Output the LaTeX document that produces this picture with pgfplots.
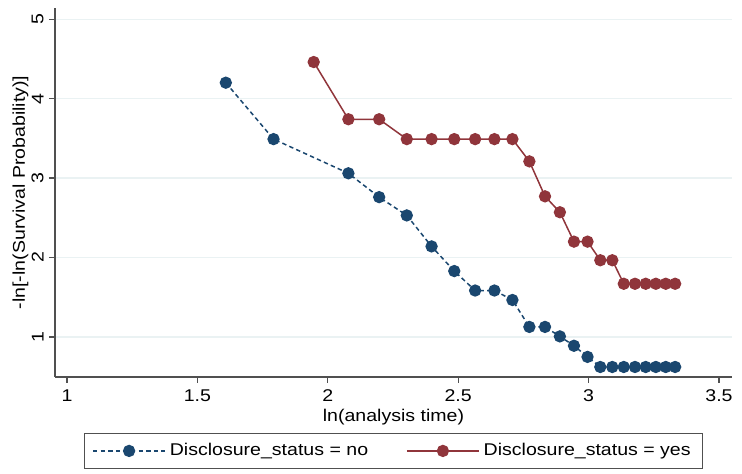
\documentclass[border=0pt]{standalone}
\usepackage{fontspec}
\setmainfont{Liberation Sans}[FakeStretch=1.15]
\usepackage{pgfplots}
\pgfplotsset{compat=1.18}
\definecolor{snavy}{RGB}{26,71,111}
\definecolor{smaroon}{RGB}{144,53,59}
\definecolor{sgrid}{RGB}{234,242,243}
\definecolor{saxis}{RGB}{80,80,80}
\begin{document}
\fontsize{8.5}{10}\selectfont
\begin{tikzpicture}
\useasboundingbox (-27.5pt,-48.5pt) rectangle (343.5pt,188.5pt);
\begin{axis}[
    scale only axis,
    width=338.5pt, height=184.5pt,
    xmin=0.954, xmax=3.55,
    ymin=0.497, ymax=5.14,
    xtick={1,1.5,2,2.5,3,3.5},
    ytick={1,2,3,4,5},
    /pgf/number format/assume math mode=true,
    axis x line*=bottom, axis y line*=left,
    x axis line style={-, saxis, line width=0.7pt},
    y axis line style={-, saxis, line width=0.7pt},
    tick align=outside, major tick length=3pt,
    tick style={saxis, line width=0.6pt},
    yticklabel style={rotate=90, anchor=south, inner sep=2.5pt},
    xticklabel style={inner sep=3.2pt},
    ymajorgrids, grid style={sgrid, line width=0.6pt},
    xlabel={ln(analysis time)},
    ylabel={-ln[-ln(Survival Probability)]},
    xlabel style={yshift=0.5pt, inner sep=1pt},
    ylabel style={yshift=-4pt},
    legend columns=2,
    legend style={at={(axis description cs:0.5,0)}, anchor=north, yshift=-28pt,
        draw=saxis, line width=0.5pt, inner xsep=4pt, inner ysep=3pt,
        /tikz/every even column/.append style={column sep=17pt},
        nodes={inner sep=2pt}},
    legend image code/.code={
        \draw[mark repeat=2, mark phase=2, #1] plot coordinates {(0pt,0pt) (18pt,0pt) (36pt,0pt)};
    },
]
\addplot[snavy, line width=0.75pt, dash pattern=on 2.2pt off 1.6pt,
    mark=*, mark size=2.7pt, mark options={solid, fill=snavy, draw=snavy}]
    table {
1.609 4.20
1.792 3.49
2.079 3.06
2.197 2.76
2.303 2.53
2.398 2.14
2.485 1.83
2.565 1.585
2.639 1.585
2.708 1.466
2.773 1.127
2.833 1.127
2.890 1.008
2.944 0.89
2.996 0.75
3.045 0.623
3.091 0.623
3.135 0.623
3.178 0.623
3.219 0.623
3.258 0.623
3.296 0.623
3.332 0.623
};
\addlegendentry{Disclosure\_status = no}
\addplot[smaroon, line width=0.75pt,
    mark=*, mark size=2.7pt, mark options={solid, fill=smaroon, draw=smaroon}]
    table {
1.946 4.46
2.079 3.74
2.197 3.74
2.303 3.49
2.398 3.49
2.485 3.49
2.565 3.49
2.639 3.49
2.708 3.49
2.773 3.21
2.833 2.77
2.890 2.57
2.944 2.20
2.996 2.20
3.045 1.966
3.091 1.966
3.135 1.67
3.178 1.67
3.219 1.67
3.258 1.67
3.296 1.67
3.332 1.67
};
\addlegendentry{Disclosure\_status = yes}
\end{axis}
\end{tikzpicture}
\end{document}
